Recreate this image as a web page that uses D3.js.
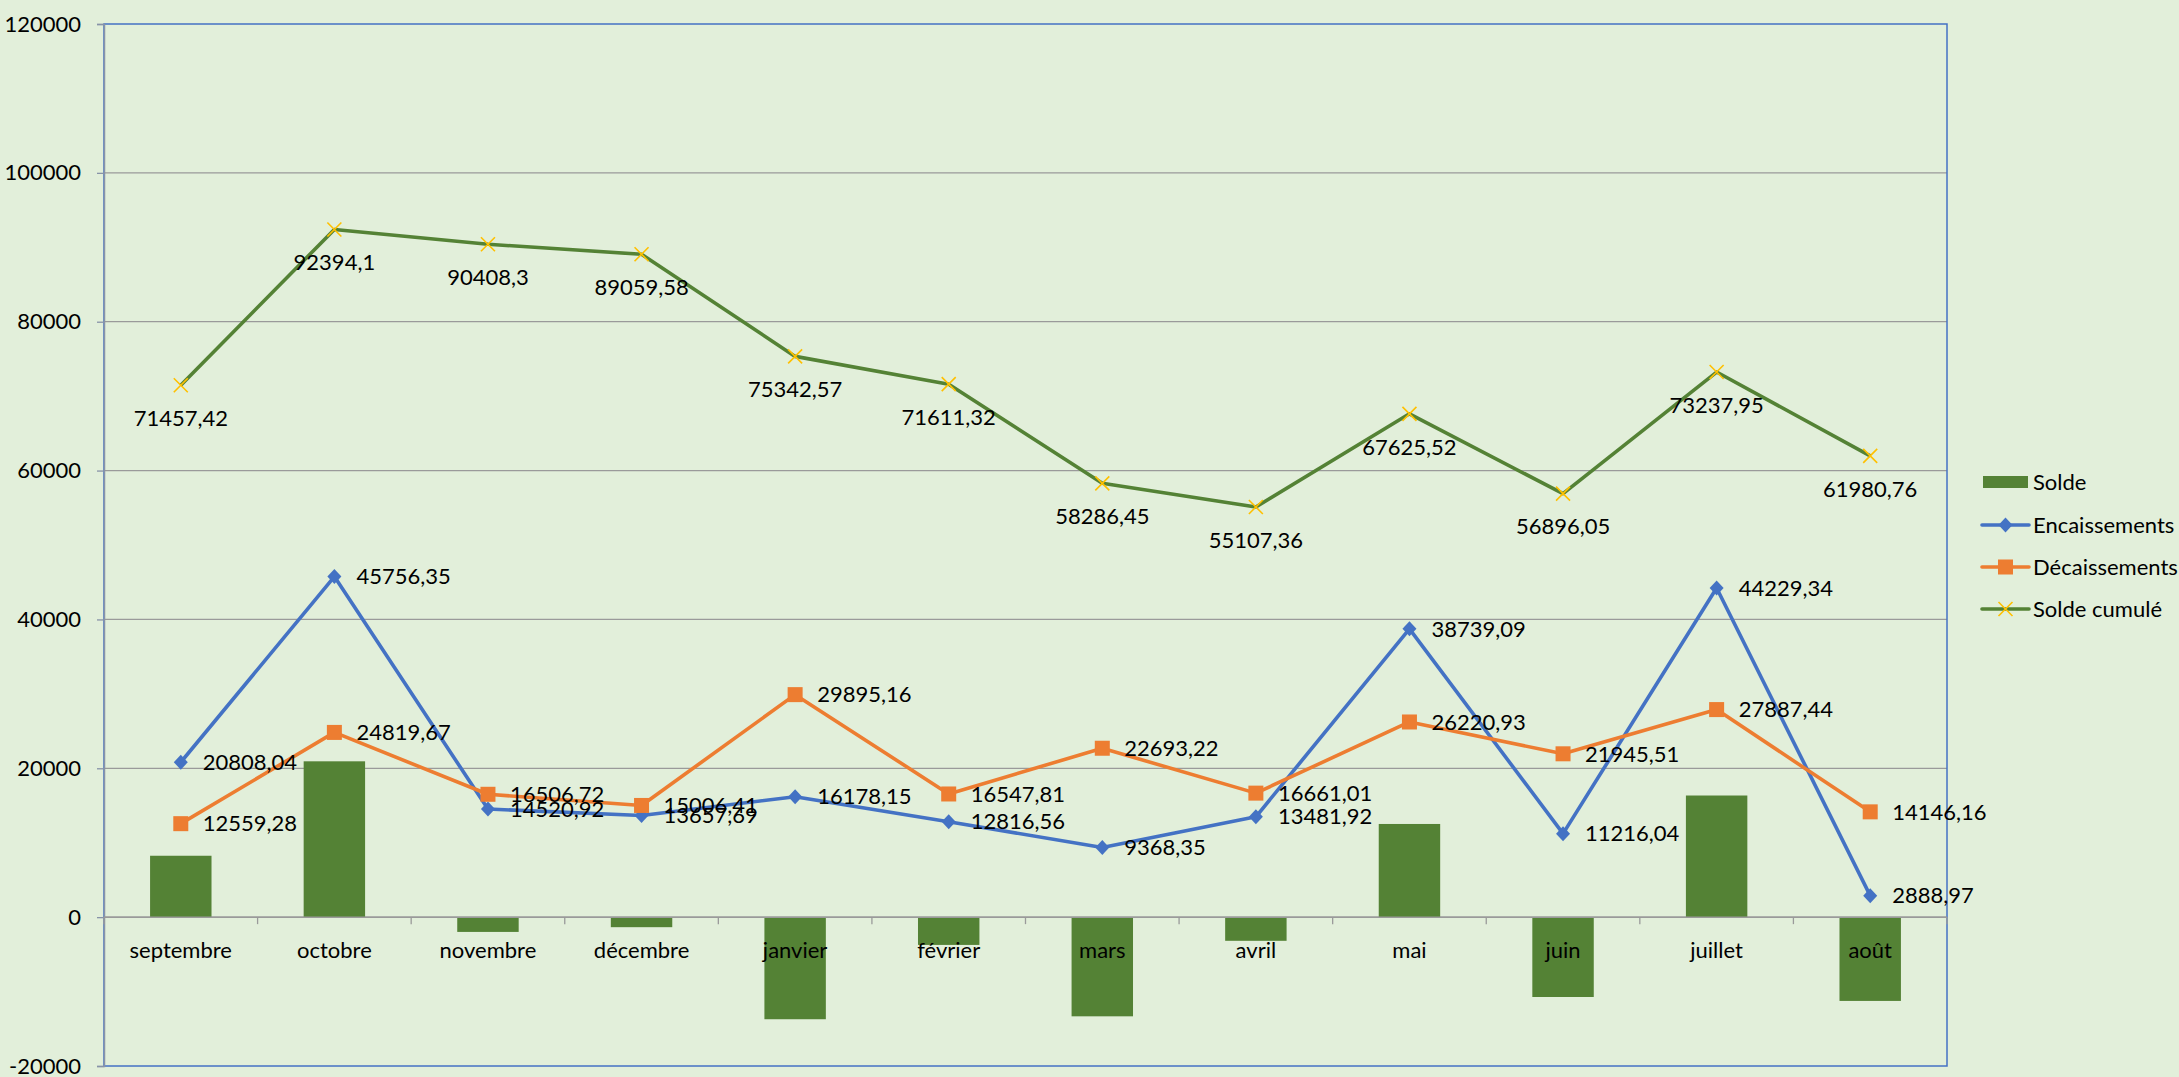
<!DOCTYPE html>
<html><head><meta charset="utf-8">
<script src="https://cdn.jsdelivr.net/npm/d3@7"></script>
<style>
html,body{margin:0;padding:0;background:#E2EFDA;}
svg{display:block;font-family:Lato,"Noto Sans",sans-serif;}
</style></head>
<body>
<svg id="chart" width="2179" height="1077"></svg>
<script>
const categories = ["septembre","octobre","novembre","décembre","janvier","février","mars","avril","mai","juin","juillet","août"];
const solde = [8248.76, 20936.68, -1985.80, -1348.72, -13717.01, -3731.25, -13324.87, -3179.09, 12518.16, -10729.47, 16341.90, -11257.19];
const encaissements = [20808.04, 45756.35, 14520.92, 13657.69, 16178.15, 12816.56, 9368.35, 13481.92, 38739.09, 11216.04, 44229.34, 2888.97];
const decaissements = [12559.28, 24819.67, 16506.72, 15006.41, 29895.16, 16547.81, 22693.22, 16661.01, 26220.93, 21945.51, 27887.44, 14146.16];
const soldeCumule = [71457.42, 92394.1, 90408.3, 89059.58, 75342.57, 71611.32, 58286.45, 55107.36, 67625.52, 56896.05, 73237.95, 61980.76];
const yTicks = [-20000, 0, 20000, 40000, 60000, 80000, 100000, 120000];
const legendLabels = ["Solde","Encaissements","Décaissements","Solde cumulé"];

const colors = {solde:"#548235", enc:"#4472C4", dec:"#ED7D31", cum:"#548235", cumMarker:"#FFC000"};
const FS = 22;
const svg = d3.select("#chart");
const L = 104, R = 1947, T = 24, B = 1066;

const x = d3.scaleBand().domain(categories).range([L, R]).paddingInner(0.6).paddingOuter(0.3);
const xc = c => x(c) + x.bandwidth()/2;
const step = (R - L) / categories.length;
const y = d3.scaleLinear().domain([-20000, 120000]).range([B, T]);
const fmt = v => String(v).replace(".", ",");

// gridlines
svg.append("g").selectAll("line").data(yTicks.filter(d => d !== -20000 && d !== 120000)).join("line")
  .attr("x1", L).attr("x2", R).attr("y1", d => y(d)).attr("y2", d => y(d))
  .attr("stroke", "#9A9A9A").attr("stroke-width", 1.3);

// plot border
svg.append("rect").attr("x", L).attr("y", y(120000)).attr("width", R - L).attr("height", y(-20000) - y(120000))
  .attr("fill", "none").attr("stroke", "#4472C4").attr("stroke-width", 1.5);

// y axis
const yAxis = svg.append("g").attr("transform", `translate(${L},0)`)
  .call(d3.axisLeft(y).tickValues(yTicks).tickFormat(d => String(d)).tickSize(7).tickPadding(16));
yAxis.select(".domain").attr("stroke", "#8893A8").attr("stroke-width", 1.5);
yAxis.selectAll(".tick line").attr("stroke", "#8893A8").attr("stroke-width", 1.3);
yAxis.selectAll("text").attr("font-size", FS).attr("font-family", "Lato").attr("fill", "#000");

// bars
svg.append("g").selectAll("rect").data(categories).join("rect")
  .attr("x", c => x(c))
  .attr("width", x.bandwidth())
  .attr("y", (c, i) => y(Math.max(0, solde[i])))
  .attr("height", (c, i) => Math.abs(y(solde[i]) - y(0)))
  .attr("fill", colors.solde);

// zero axis
svg.append("line").attr("x1", L).attr("x2", R).attr("y1", y(0)).attr("y2", y(0))
  .attr("stroke", "#9A9A9A").attr("stroke-width", 1.5);
svg.append("g").selectAll("line").data(d3.range(categories.length + 1)).join("line")
  .attr("x1", i => L + i * step).attr("x2", i => L + i * step)
  .attr("y1", y(0)).attr("y2", y(0) + 7)
  .attr("stroke", "#9A9A9A").attr("stroke-width", 1.3);
// category labels
svg.append("g").selectAll("text").data(categories).join("text")
  .attr("x", c => xc(c)).attr("y", y(0) + 33).attr("dy", "0.35em")
  .attr("text-anchor", "middle").attr("font-size", FS).attr("fill", "#000")
  .text(c => c);

// lines
function drawLine(vals, color, width) {
  const line = d3.line().x((d, i) => xc(categories[i])).y(d => y(d));
  svg.append("path").datum(vals).attr("d", line).attr("fill", "none")
    .attr("stroke", color).attr("stroke-width", width).attr("stroke-linejoin", "round");
}
drawLine(soldeCumule, colors.cum, 3.6);
drawLine(encaissements, colors.enc, 3.6);
drawLine(decaissements, colors.dec, 3.6);

// markers
function drawDiamond(g, cx, cy) {
  g.append("path").attr("d", "M0,-7.5L7,0L0,7.5L-7,0Z").attr("transform", `translate(${cx},${cy})`).attr("fill", colors.enc);
}
function drawSquare(g, cx, cy) {
  g.append("rect").attr("x", cx - 7.5).attr("y", cy - 7.5).attr("width", 15).attr("height", 15).attr("fill", colors.dec);
}
function drawX(g, cx, cy) {
  g.append("path").attr("d", `M${cx-7},${cy-7}L${cx+7},${cy+7}M${cx-7},${cy+7}L${cx+7},${cy-7}`)
    .attr("stroke", colors.cumMarker).attr("stroke-width", 1.6).attr("fill", "none");
}
const mk = svg.append("g");
categories.forEach((c, i) => {
  drawX(mk, xc(c), y(soldeCumule[i]));
  drawDiamond(mk, xc(c), y(encaissements[i]));
  drawSquare(mk, xc(c), y(decaissements[i]));
});

// data labels
const lab = svg.append("g").attr("font-size", FS).attr("fill", "#000");
categories.forEach((c, i) => {
  lab.append("text").attr("x", xc(c)).attr("y", y(soldeCumule[i]) + 33).attr("dy", "0.35em")
    .attr("text-anchor", "middle").text(fmt(soldeCumule[i]));
  lab.append("text").attr("x", xc(c) + 22).attr("y", y(encaissements[i])).attr("dy", "0.35em")
    .text(fmt(encaissements[i]));
  lab.append("text").attr("x", xc(c) + 22).attr("y", y(decaissements[i])).attr("dy", "0.35em")
    .text(fmt(decaissements[i]));
});

// legend
const lg = svg.append("g");
const rows = [482, 525, 567, 609];
const lx1 = 1982, lx2 = 2029, lmid = (lx1 + lx2) / 2;
lg.append("rect").attr("x", lx1 + 1).attr("y", rows[0] - 6).attr("width", lx2 - lx1 - 2).attr("height", 12).attr("fill", colors.solde);
[[colors.enc, 1], [colors.dec, 2], [colors.cum, 3]].forEach(([col, r]) => {
  lg.append("line").attr("x1", lx1).attr("x2", lx2).attr("y1", rows[r]).attr("y2", rows[r])
    .attr("stroke", col).attr("stroke-width", 3.6).attr("stroke-linecap", "round");
});
drawDiamond(lg, lmid, rows[1]);
drawSquare(lg, lmid, rows[2]);
drawX(lg, lmid, rows[3]);
lg.selectAll("text").data(legendLabels).join("text")
  .attr("x", 2033).attr("y", (d, i) => rows[i]).attr("dy", "0.35em")
  .attr("font-size", FS).attr("fill", "#000").text(d => d);
</script>
</body></html>
